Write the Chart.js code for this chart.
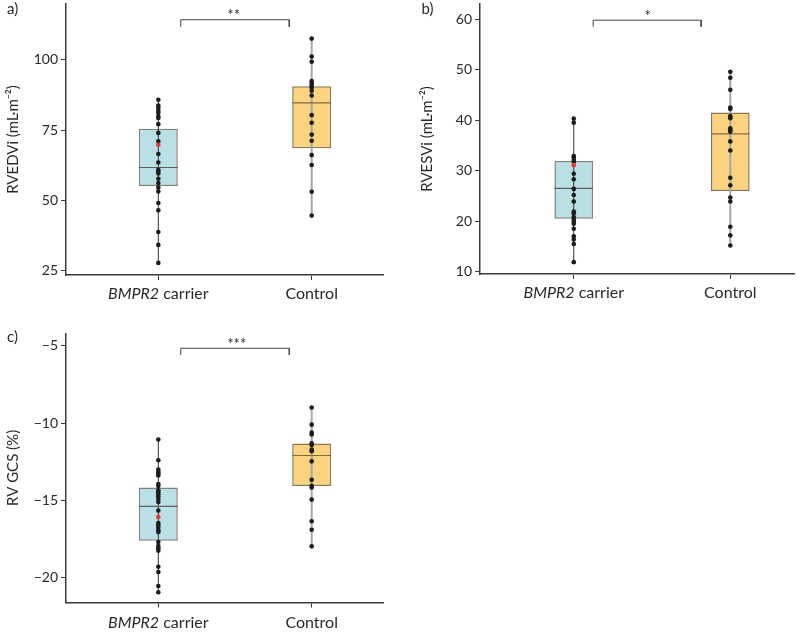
<!DOCTYPE html>
<html><head><meta charset="utf-8">
<script src="https://cdn.jsdelivr.net/npm/chart.js@4.4.1/dist/chart.umd.min.js"></script>
<style>
html,body{margin:0;padding:0;background:#fff;}
#wrap{position:relative;width:798px;height:632px;overflow:hidden;background:#fff;}
.p{position:absolute;}
</style></head><body>
<div id="wrap">
<div class="p" style="left:0;top:0;width:392px;height:310px"><canvas id="ca"></canvas></div>
<div class="p" style="left:400px;top:0;width:398px;height:310px"><canvas id="cb"></canvas></div>
<div class="p" style="left:0;top:310px;width:392px;height:322px"><canvas id="cc"></canvas></div>
</div>
<script>
// ---------- data ----------
const categories = ['BMPR2 carrier', 'Control'];
const italicWords = ['BMPR2'];

const rvedviCarrier = [85.8, 83.7, 82.9, 81.9, 81.1, 79.8, 79.3, 77.1, 74.0, 71.0, 66.5, 63.5, 60.9, 60.3, 59.6, 57.7, 56.2, 54.6, 53.2, 49.1, 46.5, 38.8, 34.2, 27.8];
const rvedviHighlight = 69.8;
const rvedviControl = [107.5, 101.1, 99.3, 92.4, 91.7, 90.9, 90.1, 89.0, 87.3, 80.3, 77.6, 73.4, 71.2, 66.1, 62.6, 53.1, 44.6];
const rvedviQ1 = [55.1, 68.5];
const rvedviMedian = [61.7, 84.7];
const rvedviQ3 = [75.5, 90.6];
const rvedviTicks = [25, 50, 75, 100];
const rvedviSig = '**';

const rvesviCarrier = [40.3, 39.5, 32.9, 32.6, 32.1, 31.7, 29.4, 28.3, 26.4, 25.2, 23.9, 21.9, 21.6, 20.8, 20.3, 19.9, 19.5, 18.5, 17.0, 16.4, 15.5, 11.9];
const rvesviHighlight = 31.1;
const rvesviControl = [49.6, 48.4, 46.0, 42.5, 42.2, 40.8, 40.4, 38.4, 38.0, 37.7, 35.8, 34.0, 28.6, 27.1, 24.7, 23.9, 18.9, 17.2, 15.2];
const rvesviQ1 = [20.5, 26.0];
const rvesviMedian = [26.5, 37.3];
const rvesviQ3 = [31.9, 41.5];
const rvesviTicks = [10, 20, 30, 40, 50, 60];
const rvesviSig = '*';

const gcsCarrier = [-11.06, -12.41, -13.02, -13.17, -13.29, -13.39, -13.95, -14.08, -14.36, -14.49, -14.63, -14.76, -14.92, -15.12, -15.67, -16.48, -16.63, -16.78, -16.95, -17.06, -17.71, -17.97, -18.12, -18.28, -19.31, -19.66, -20.56, -20.97];
const gcsHighlight = -16.08;
const gcsControl = [-8.99, -10.10, -10.62, -10.74, -11.31, -11.42, -11.72, -11.83, -12.48, -13.68, -14.07, -14.18, -14.96, -16.36, -16.91, -17.99];
const gcsQ1 = [-17.63, -14.08];
const gcsMedian = [-15.40, -12.10];
const gcsQ3 = [-14.18, -11.32];
const gcsTicks = [-20, -15, -10, -5];
const gcsSig = '***';

// ---------- drawing ----------
const FONT = 'Lato, "Noto Sans", "DejaVu Sans", sans-serif';
const AXIS = '#3a3a3a';
const TEXT = '#2a2a2a';

function buildPanel(id, p) {
  const carrierAll = p.carrier.concat([p.highlight]);
  const mins = [Math.min(...carrierAll), Math.min(...p.control)];
  const maxs = [Math.max(...carrierAll), Math.max(...p.control)];
  const hw = p.boxW / 2;
  const br = p.bracket;
  const datasets = [
    {type: 'bar', data: [0, 1].map(i => ({x: i, y: [p.q1[i], p.q3[i]]})),
     backgroundColor: ['#b8e0e5', '#fcd47f'], borderColor: ['#808080', '#8a7852'],
     borderWidth: 1.5, borderSkipped: false, categoryPercentage: 1, barPercentage: p.boxW, order: 6},
    {type: 'line', data: [{x: 0, y: mins[0]}, {x: 0, y: maxs[0]}], borderColor: '#333', borderWidth: 1, pointRadius: 0, order: 5},
    {type: 'line', data: [{x: 1, y: mins[1]}, {x: 1, y: maxs[1]}], borderColor: '#a6a6a6', borderWidth: 2, pointRadius: 0, order: 5},
    {type: 'line', data: [{x: -hw, y: p.med[0]}, {x: hw, y: p.med[0]}], borderColor: '#606060', borderWidth: 1.2, pointRadius: 0, order: 4},
    {type: 'line', data: [{x: 1 - hw, y: p.med[1]}, {x: 1 + hw, y: p.med[1]}], borderColor: '#7d6b45', borderWidth: 1.2, pointRadius: 0, order: 4},
    {type: 'line', data: [{x: br.x1, y: br.yBot}, {x: br.x1, y: br.yTop}, {x: br.x2, y: br.yTop}, {x: br.x2, y: br.yBot}],
     borderColor: '#444', borderWidth: 1, pointRadius: 0, order: 3, fill: false},
    {type: 'scatter', data: p.carrier.map(v => ({x: 0, y: v})), pointRadius: 2.3, backgroundColor: '#1c1c1c', borderWidth: 0, order: 2},
    {type: 'scatter', data: p.control.map(v => ({x: 1, y: v})), pointRadius: 2.3, backgroundColor: '#1c1c1c', borderWidth: 0, order: 2},
    {type: 'scatter', data: [{x: 0, y: p.highlight}], pointRadius: 2.3, backgroundColor: '#e8392f', borderWidth: 0, order: 1}
  ];

  const textPlugin = {
    id: 'texts' + id,
    afterDraw(chart) {
      const ctx = chart.ctx, xs = chart.scales.x, ys = chart.scales.y, ca = chart.chartArea;
      ctx.save();
      ctx.fillStyle = TEXT;
      ctx.textBaseline = 'alphabetic';
      const base = ca.bottom + p.xLabelOffset;
      const normal = '16px ' + FONT, ital = 'italic 16px ' + FONT;
      categories.forEach((c, i) => {
        const cx = xs.getPixelForValue(i);
        const it = italicWords.find(w => c.startsWith(w));
        if (it) {
          const rest = c.slice(it.length);
          ctx.font = ital; const w1 = ctx.measureText(it).width;
          ctx.font = normal; const w2 = ctx.measureText(rest).width;
          const x0 = cx - (w1 + w2) / 2;
          ctx.textAlign = 'left';
          ctx.font = ital; ctx.fillText(it, x0, base);
          ctx.font = normal; ctx.fillText(rest, x0 + w1, base);
        } else {
          ctx.textAlign = 'center'; ctx.font = normal; ctx.fillText(c, cx, base);
        }
      });
      ctx.font = '15px ' + FONT; ctx.textAlign = 'center';
      ctx.fillText(p.sig, xs.getPixelForValue(p.starX), ys.getPixelForValue(br.yTop) + 0.5);
      ctx.font = '15px ' + FONT; ctx.textAlign = 'left';
      ctx.fillText(p.panelLabel, p.labelPos[0], p.labelPos[1]);
      ctx.restore();
    }
  };

  const gridOpts = {display: true, drawOnChartArea: false, drawTicks: true, tickLength: 5, color: AXIS, lineWidth: 1, offset: false};
  const borderOpts = {display: true, color: AXIS, width: 1.5};

  new Chart(document.getElementById(id), {
    type: 'bar',
    data: {datasets},
    plugins: [textPlugin],
    options: {
      responsive: true, maintainAspectRatio: false, animation: false,
      layout: {padding: {left: 0, top: p.padTop, right: p.padRight, bottom: 0}},
      plugins: {legend: {display: false}, tooltip: {enabled: false}},
      scales: {
        x: {type: 'linear', min: p.xRange[0], max: p.xRange[1], offset: false,
            afterBuildTicks: s => { s.ticks = [{value: 0}, {value: 1}]; },
            ticks: {display: false},
            grid: gridOpts, border: borderOpts,
            afterFit: s => { s.height = p.xAxisH; s.paddingLeft = 0; s.paddingRight = 0; }},
        y: {type: 'linear', min: p.yRange[0], max: p.yRange[1],
            afterBuildTicks: s => { s.ticks = p.yTicks.map(v => ({value: v})); },
            ticks: {font: {size: 14, family: FONT}, color: TEXT, padding: 3,
                    callback: v => String(v).replace('-', '\u2212')},
            grid: gridOpts, border: borderOpts,
            title: {display: true, text: p.title, color: TEXT, font: {size: 15, family: FONT},
                    padding: {top: p.titlePad, bottom: 0}},
            afterFit: s => { s.width = p.yAxisW; s.paddingTop = 0; s.paddingBottom = 0; }}
      }
    }
  });
}

buildPanel('ca', {
  carrier: rvedviCarrier, control: rvedviControl, highlight: rvedviHighlight,
  q1: rvedviQ1, med: rvedviMedian, q3: rvedviQ3, yTicks: rvedviTicks, sig: rvedviSig,
  title: 'RVEDVi (mL\u00b7m\u207b\u00b2)', panelLabel: 'a)', labelPos: [7, 14],
  yRange: [23.5, 119.8], xRange: [-0.602, 1.465], boxW: 0.254,
  bracket: {x1: 0.146, x2: 0.854, yTop: 114.2, yBot: 111.7}, starX: 0.491,
  yAxisW: 66, xAxisH: 35, padTop: 3, padRight: 9, titlePad: 4, xLabelOffset: 23.5
});
buildPanel('cb', {
  carrier: rvesviCarrier, control: rvesviControl, highlight: rvesviHighlight,
  q1: rvesviQ1, med: rvesviMedian, q3: rvesviQ3, yTicks: rvesviTicks, sig: rvesviSig,
  title: 'RVESVi (mL\u00b7m\u207b\u00b2)', panelLabel: 'b)', labelPos: [21.5, 14],
  yRange: [9.55, 63.0], xRange: [-0.599, 1.407], boxW: 0.247,
  bracket: {x1: 0.124, x2: 0.814, yTop: 59.8, yBot: 58.5}, starX: 0.472,
  yAxisW: 80, xAxisH: 36, padTop: 3, padRight: 1, titlePad: 18.5, xLabelOffset: 24.3
});
buildPanel('cc', {
  carrier: gcsCarrier, control: gcsControl, highlight: gcsHighlight,
  q1: gcsQ1, med: gcsMedian, q3: gcsQ3, yTicks: gcsTicks, sig: gcsSig,
  title: 'RV GCS (%)', panelLabel: 'c)', labelPos: [7, 32],
  yRange: [-21.63, -4.18], xRange: [-0.602, 1.465], boxW: 0.254,
  bracket: {x1: 0.146, x2: 0.854, yTop: -5.15, yBot: -5.58}, starX: 0.511,
  yAxisW: 66, xAxisH: 29.5, padTop: 23.3, padRight: 9, titlePad: 4, xLabelOffset: 25
});
</script>
</body></html>
